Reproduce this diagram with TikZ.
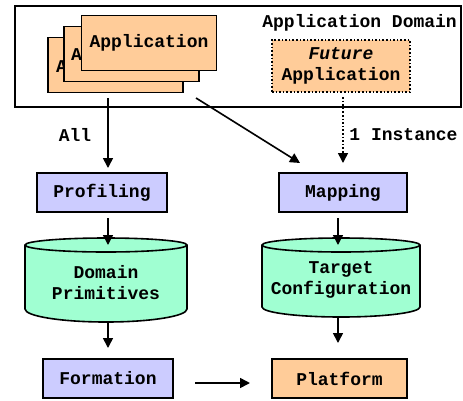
\documentclass[tikz,border=0pt]{standalone}
\usepackage{fontspec}
\setmainfont{Liberation Mono}
\usetikzlibrary{arrows.meta}
\definecolor{apporange}{HTML}{FFCC99}
\definecolor{procblue}{HTML}{CCCCFF}
\definecolor{drumgreen}{HTML}{A0FFD2}
\tikzset{
  every node/.style={font=\bfseries\fontsize{18}{21}\selectfont, inner sep=0pt, align=center},
  box/.style={draw, line width=1.6pt, minimum height=39pt},
  appbox/.style={box, fill=apporange, minimum width=135pt, minimum height=55pt},
  procbox/.style={box, fill=procblue},
  arr/.style={line width=1.6pt, -{Triangle[length=10pt,width=10pt]}},
  drumline/.style={line width=1.6pt, fill=drumgreen}
}
\begin{document}
\begin{tikzpicture}[x=1pt,y=-1pt]
\useasboundingbox[fill=white] (0,0) rectangle (463,400);
% outer domain box
\node[draw, line width=1.6pt, minimum width=446pt, minimum height=101pt] (domain) at (238,56.5) {};
\node[anchor=east] (domainlbl) at (457,23) {Application Domain};
% stacked applications
\node[appbox] (appback) at (115.5,65) {};
\node[anchor=west] (appbacktxt) at (56,67) {A};
\node[appbox] (appmid) at (131.5,54) {};
\node[anchor=west] (appmidtxt) at (71,55) {A};
\node[appbox] (appfront) at (149,43) {Application};
% future application
\node[draw, dotted, line width=1.6pt, fill=apporange, minimum width=138pt, minimum height=52pt] (future) at (341,66) {\textit{Future}\\Application};
% process boxes
\node[procbox, minimum width=130pt] (prof) at (102,192.5) {Profiling};
\node[procbox, minimum width=128pt] (map) at (343,192.5) {Mapping};
\node[procbox, minimum width=130pt] (form) at (108,378.5) {Formation};
\node[box, fill=apporange, minimum width=135pt] (plat) at (339.5,378.5) {Platform};
% drums
\draw[drumline] (25,245) -- (25,309) arc[start angle=180,end angle=0,x radius=81,y radius=13] -- (187,245) arc[start angle=0,end angle=-180,x radius=81,y radius=7] -- cycle;
\draw[line width=1.6pt] (25,245) arc[start angle=180,end angle=0,x radius=81,y radius=7];
\node (prims) at (106,283) {Domain\\Primitives};
\draw[drumline] (262,245) -- (262,307) arc[start angle=180,end angle=0,x radius=79,y radius=10] -- (420,245) arc[start angle=0,end angle=-180,x radius=79,y radius=7] -- cycle;
\draw[line width=1.6pt] (262,245) arc[start angle=180,end angle=0,x radius=79,y radius=7];
\node (config) at (341,280) {Target\\Configuration};
% labels
\node (all) at (75,135) {All};
\node (inst) at (403.5,135) {1 Instance};
% connector end points
\coordinate (allS) at (108,98);
\coordinate (allE) at (108,168);
\coordinate (diagS) at (196,98);
\coordinate (diagE) at (300,163);
\coordinate (futS) at (343,97);
\coordinate (futE) at (343,163);
\coordinate (profS) at (108,218);
\coordinate (profE) at (108,245);
\coordinate (mapS) at (338,218);
\coordinate (mapE) at (338,245);
\coordinate (primS) at (108,322);
\coordinate (primE) at (108,348);
\coordinate (confS) at (338,317);
\coordinate (confE) at (338,343);
\coordinate (formS) at (195,383);
\coordinate (formE) at (250,383);
% connectors
\draw[arr] (allS) -- (allE);
\draw[arr] (diagS) -- (diagE);
\draw[arr, dotted] (futS) -- (futE);
\draw[arr] (profS) -- (profE);
\draw[arr] (mapS) -- (mapE);
\draw[arr] (primS) -- (primE);
\draw[arr] (confS) -- (confE);
\draw[arr] (formS) -- (formE);
\end{tikzpicture}
\end{document}
